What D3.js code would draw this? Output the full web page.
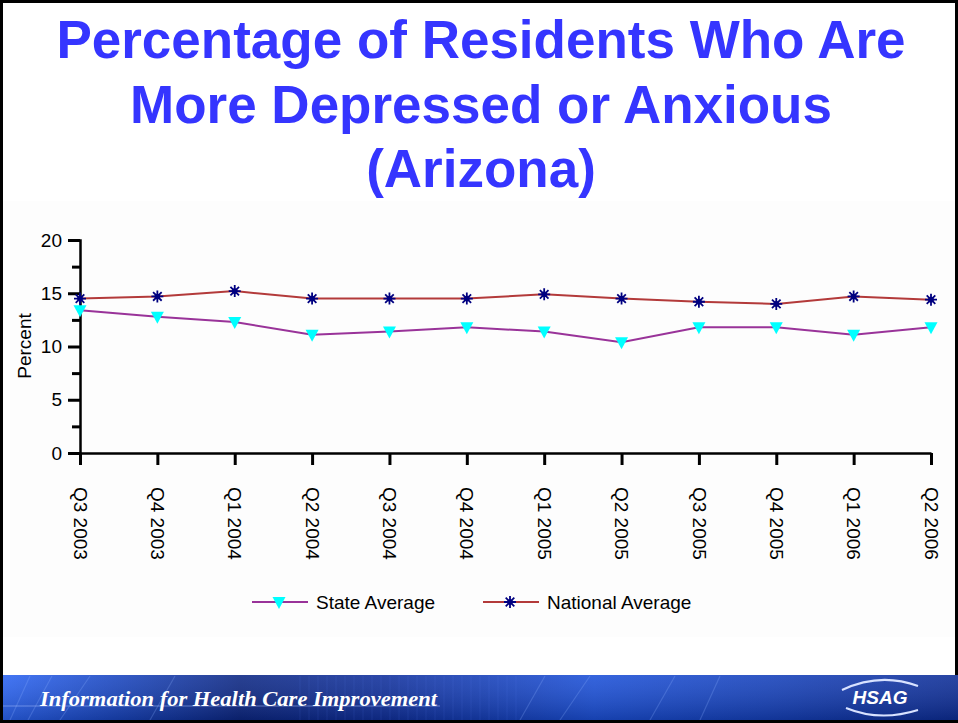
<!DOCTYPE html>
<html>
<head>
<meta charset="utf-8">
<script src="https://cdn.jsdelivr.net/npm/d3@7"></script>
<style>
  html, body { margin: 0; padding: 0; background: #ffffff; }
  svg { display: block; }
</style>
</head>
<body>
<svg id="chart" width="958" height="723"></svg>
<script>
// ---- Data ----
const titleLines = ["Percentage of Residents Who Are", "More Depressed or Anxious", "(Arizona)"];
const categories = ["Q3 2003", "Q4 2003", "Q1 2004", "Q2 2004", "Q3 2004", "Q4 2004",
                    "Q1 2005", "Q2 2005", "Q3 2005", "Q4 2005", "Q1 2006", "Q2 2006"];
const stateAverage    = [13.4, 12.8, 12.3, 11.1, 11.4, 11.8, 11.4, 10.4, 11.8, 11.8, 11.1, 11.8];
const nationalAverage = [14.5, 14.7, 15.2, 14.5, 14.5, 14.5, 14.9, 14.5, 14.2, 14.0, 14.7, 14.4];
const yMajorTicks = [0, 5, 10, 15, 20];
const yMinorTicks = [2.5, 7.5, 12.5, 17.5];
const seriesNames = ["State Average", "National Average"];
const yAxisTitle = "Percent";
const bannerText = "Information for Health Care Improvement";
const logoText = "HSAG";

// ---- Setup ----
const svg = d3.select("#chart");
const W = 958, H = 723;
const FONT = "'Liberation Sans', Arial, sans-serif";

svg.append("rect").attr("x", 0).attr("y", 0).attr("width", W).attr("height", H).attr("fill", "#ffffff");
// faint chart panel background
svg.append("rect").attr("x", 3).attr("y", 201).attr("width", 952).attr("height", 436).attr("fill", "#fdfdfd");

// ---- Title ----
svg.append("g").selectAll("text").data(titleLines).join("text")
  .attr("x", 481)
  .attr("y", (d, i) => 58 + i * 64.5)
  .attr("text-anchor", "middle")
  .attr("font-family", FONT)
  .attr("font-weight", "bold")
  .attr("font-size", 53)
  .attr("fill", "#3535ff")
  .text(d => d);

// ---- Scales ----
const x = d3.scalePoint().domain(categories).range([80, 931]);
const y = d3.scaleLinear().domain([0, 20]).range([453, 240]);

// ---- Axes ----
svg.append("g").attr("transform", "translate(80,0)")
  .call(d3.axisLeft(y).tickValues(yMajorTicks).tickSize(12).tickPadding(6).tickFormat(d3.format("d")));
svg.append("g").attr("transform", "translate(80,0)")
  .call(d3.axisLeft(y).tickValues(yMinorTicks).tickSize(8).tickFormat(""))
  .call(g => g.select(".domain").remove());

const xAxis = svg.append("g").attr("transform", "translate(0,453)")
  .call(d3.axisBottom(x).tickSize(12).tickSizeOuter(0));
xAxis.selectAll("text")
  .attr("transform", "rotate(90)")
  .attr("x", 34)
  .attr("y", 0)
  .attr("dy", "0.36em")
  .attr("text-anchor", "start");

svg.selectAll(".tick line").attr("stroke", "#000").attr("stroke-width", 3);
svg.selectAll(".domain").attr("stroke", "#000").attr("stroke-width", 2.5);
svg.selectAll(".tick text").attr("font-family", FONT).attr("font-size", 19).attr("fill", "#000");

// y-axis title
svg.append("text")
  .attr("transform", "translate(31,346) rotate(-90)")
  .attr("text-anchor", "middle")
  .attr("font-family", FONT).attr("font-size", 19).attr("fill", "#000")
  .text(yAxisTitle);

// ---- Lines ----
const stateColor = "#993399", natColor = "#b33a3a";
const line = d3.line().x((d, i) => x(categories[i])).y(d => y(d));
svg.append("path").datum(stateAverage).attr("d", line)
  .attr("fill", "none").attr("stroke", stateColor).attr("stroke-width", 2);
svg.append("path").datum(nationalAverage).attr("d", line)
  .attr("fill", "none").attr("stroke", natColor).attr("stroke-width", 2);

// ---- Markers ----
function triangle(g) {
  g.append("path").attr("d", "M-6.5,-5 L6.5,-5 L0,7 Z").attr("fill", "#00ffff");
}
function asterisk(g) {
  g.append("path")
    .attr("d", "M-6,0 L6,0 M0,-6 L0,6 M-4.3,-4.3 L4.3,4.3 M-4.3,4.3 L4.3,-4.3")
    .attr("stroke", "#000080").attr("stroke-width", 1.8).attr("fill", "none");
  g.append("circle").attr("r", 2.8).attr("fill", "#000080");
}
svg.append("g").selectAll("g").data(stateAverage).join("g")
  .attr("transform", (d, i) => `translate(${x(categories[i])},${y(d)})`)
  .each(function () { triangle(d3.select(this)); });
svg.append("g").selectAll("g").data(nationalAverage).join("g")
  .attr("transform", (d, i) => `translate(${x(categories[i])},${y(d)})`)
  .each(function () { asterisk(d3.select(this)); });

// ---- Legend ----
const legendItems = [
  { name: seriesNames[0], color: stateColor, x0: 252, marker: triangle },
  { name: seriesNames[1], color: natColor, x0: 483, marker: asterisk }
];
const lg = svg.append("g").selectAll("g").data(legendItems).join("g")
  .attr("transform", d => `translate(${d.x0},602)`);
lg.append("line").attr("x1", 0).attr("x2", 56).attr("y1", 0).attr("y2", 0)
  .attr("stroke", d => d.color).attr("stroke-width", 2);
lg.each(function (d) {
  const m = d3.select(this).append("g").attr("transform", "translate(27,0)");
  d.marker(m);
});
lg.append("text").attr("x", 64).attr("y", 0).attr("dy", "0.35em")
  .attr("font-family", FONT).attr("font-size", 19).attr("fill", "#000")
  .text(d => d.name);

// ---- Bottom banner ----
const defs = svg.append("defs");
const grad = defs.append("linearGradient").attr("id", "bannerGrad").attr("x1", 0).attr("x2", 1).attr("y1", 0).attr("y2", 0);
[[0, "#2a64f4"], [0.12, "#1845c0"], [0.25, "#0b2683"], [0.4, "#0f2f9c"], [0.62, "#1a4fd8"], [0.8, "#1440bb"], [1, "#0c2c96"]]
  .forEach(s => grad.append("stop").attr("offset", s[0]).attr("stop-color", s[1]));
const vgrad = defs.append("linearGradient").attr("id", "bannerShade").attr("x1", 0).attr("x2", 0).attr("y1", 0).attr("y2", 1);
vgrad.append("stop").attr("offset", 0).attr("stop-color", "#ffffff").attr("stop-opacity", 0.12);
vgrad.append("stop").attr("offset", 1).attr("stop-color", "#000000").attr("stop-opacity", 0.2);

const banner = svg.append("g");
banner.append("rect").attr("x", 0).attr("y", 675).attr("width", W).attr("height", 46).attr("fill", "url(#bannerGrad)");
banner.append("rect").attr("x", 0).attr("y", 675).attr("width", W).attr("height", 46).attr("fill", "url(#bannerShade)");
// decorative streaks
const streaks = [[10, 30], [28, 52], [60, 90], [150, 175], [520, 545], [560, 590], [650, 675], [700, 720]];
banner.selectAll("line.s").data(streaks).join("line")
  .attr("x1", d => d[0]).attr("x2", d => d[1]).attr("y1", 720).attr("y2", 676)
  .attr("stroke", "#8fb4ff").attr("stroke-opacity", 0.25).attr("stroke-width", 1.2);
const vlines = d3.range(300, 520, 9);
banner.selectAll("line.v").data(vlines).join("line")
  .attr("x1", d => d).attr("x2", d => d).attr("y1", 676).attr("y2", 720)
  .attr("stroke", "#6f8fff").attr("stroke-opacity", 0.12).attr("stroke-width", 1);
banner.append("line").attr("x1", 0).attr("x2", 440).attr("y1", 706).attr("y2", 706)
  .attr("stroke", "#a8c0ff").attr("stroke-opacity", 0.5).attr("stroke-width", 1);
banner.append("text").attr("x", 40).attr("y", 706)
  .attr("font-family", "'Liberation Serif', 'Times New Roman', serif")
  .attr("font-style", "italic").attr("font-weight", "bold").attr("font-size", 21)
  .attr("fill", "#ffffff").attr("textLength", 397).attr("lengthAdjust", "spacingAndGlyphs")
  .text(bannerText);
// logo
banner.append("path").attr("d", "M842,690 Q880,672 918,686").attr("fill", "none")
  .attr("stroke", "#d8e2ff").attr("stroke-width", 2);
banner.append("path").attr("d", "M846,708 Q880,722 918,710").attr("fill", "none")
  .attr("stroke", "#d8e2ff").attr("stroke-width", 2);
banner.append("text").attr("x", 880).attr("y", 704).attr("text-anchor", "middle")
  .attr("font-family", FONT).attr("font-style", "italic").attr("font-weight", "bold").attr("font-size", 19)
  .attr("fill", "#ffffff").text(logoText);
banner.append("rect").attr("x", 0).attr("y", 720).attr("width", W).attr("height", 3).attr("fill", "#000");

// ---- Outer frame ----
svg.append("path").attr("d", `M1.5,723 L1.5,1.5 L956.5,1.5 L956.5,675`)
  .attr("fill", "none").attr("stroke", "#000").attr("stroke-width", 3);
</script>
</body>
</html>
